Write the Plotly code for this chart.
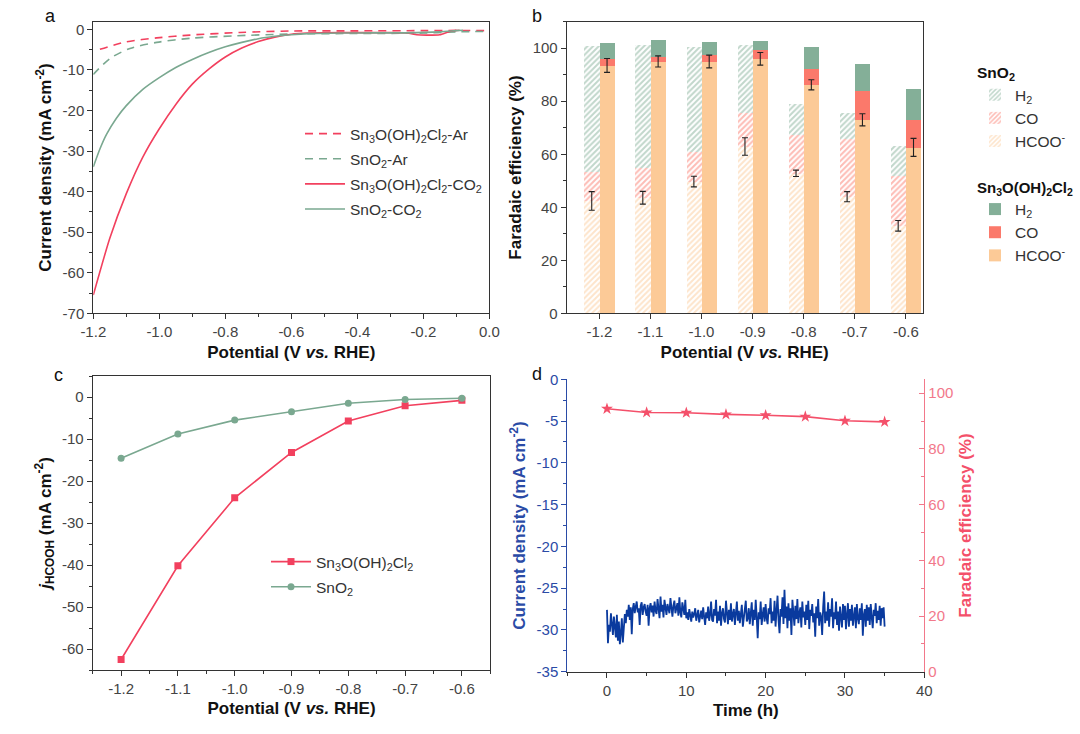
import numpy as np
import plotly.graph_objects as go

FONT = "Arial, 'Liberation Sans', sans-serif"

# ---------------- Panel a: LSV curves ----------------
sn_ar_x = [-1.18, -1.099, -1.008, -0.907, -0.756, -0.604, -0.4, -0.2, -0.1, 0.0]
sn_ar_y = [-4.9, -3.05, -2.1, -1.4, -0.75, -0.4, -0.35, -0.3, -0.25, -0.3]
sno2_ar_x = [-1.2, -1.148, -1.089, -1.008, -0.907, -0.776, -0.604, -0.4, -0.2, -0.1, 0.0]
sno2_ar_y = [-11.1, -7.1, -4.7, -3.2, -2.2, -1.6, -1.15, -1.0, -0.9, -0.6, -0.5]
sn_co2_x = [-1.2, -1.15, -1.1, -1.05, -1.0, -0.95, -0.9, -0.85, -0.8, -0.75, -0.7, -0.65,
            -0.6, -0.55, -0.45, -0.35, -0.25, -0.22, -0.19, -0.15, -0.12, -0.09]
sn_co2_y = [-65.5, -51.5, -40.5, -31.5, -24.5, -18.5, -13.5, -9.8, -6.8, -4.6, -3.0, -1.9,
            -1.2, -0.9, -0.8, -0.8, -0.85, -1.3, -1.4, -1.3, -0.5, -0.2]
sno2_co2_x = [-1.2, -1.18, -1.16, -1.13, -1.1, -1.05, -1.0, -0.95, -0.9, -0.85, -0.8, -0.75,
              -0.7, -0.65, -0.6, -0.55, -0.45, -0.35, -0.25, -0.15, -0.1, -0.08]
sno2_co2_y = [-33.9, -29.5, -25.9, -21.9, -18.8, -14.8, -11.9, -9.4, -7.4, -5.7, -4.3, -3.2,
              -2.3, -1.7, -1.3, -1.05, -0.9, -0.85, -0.85, -0.6, -0.3, -0.2]

# ---------------- Panel b: Faradaic efficiency ----------------
potentials = [-1.2, -1.1, -1.0, -0.9, -0.8, -0.7, -0.6]
sno2_hcoo = [42.4, 43.6, 49.7, 62.9, 52.8, 44.0, 33.0]
sno2_co = [11.1, 11.4, 11.3, 12.9, 14.7, 21.7, 19.0]
sno2_h2 = [47.5, 46.3, 39.6, 25.7, 11.5, 10.0, 11.1]
sno2_err = [3.5, 2.4, 2.0, 3.3, 1.2, 1.9, 2.0]
sn_hcoo = [93.5, 95.0, 95.0, 96.0, 86.2, 73.0, 62.6]
sn_co = [2.5, 1.9, 2.7, 3.4, 6.0, 11.0, 10.6]
sn_h2 = [5.9, 6.5, 4.6, 3.6, 8.2, 10.3, 11.6]
sn_err = [2.6, 2.1, 2.4, 2.4, 1.9, 2.3, 3.4]

# ---------------- Panel c: partial current density ----------------
c_pot = [-1.2, -1.1, -1.0, -0.9, -0.8, -0.7, -0.6]
c_sn = [-62.5, -40.2, -24.0, -13.2, -5.7, -2.1, -0.8]
c_sno2 = [-14.6, -8.8, -5.5, -3.5, -1.5, -0.6, -0.3]

# ---------------- Panel d: stability ----------------
d_current = [
    -27.6, -31.6, -29.4, -30.2, -28.0, -29.8, -30.6, -28.4,
    -29.6, -30.9, -28.2, -31.3, -29.0, -31.7, -30.4, -28.6,
    -31.5, -29.9, -28.1, -29.2, -27.6, -28.4, -27.0, -28.8,
    -27.3, -30.5, -27.5, -26.8, -28.0, -27.2, -26.6, -27.9,
    -27.4, -29.4, -27.1, -26.7, -28.2, -27.3, -26.9, -27.8,
    -28.3, -27.0, -29.5, -27.4, -26.8, -27.9, -27.1, -28.4,
    -26.6, -27.7, -28.1, -26.3, -27.5, -28.6, -26.0, -27.8,
    -27.0, -28.5, -26.4, -27.6, -28.2, -26.9, -27.4, -28.0,
    -26.2, -27.8, -28.4, -27.1, -26.5, -28.0, -27.3, -26.8,
    -28.3, -26.1, -27.9, -28.5, -26.7, -27.5, -28.2, -26.4,
    -28.6, -27.9, -28.8, -27.5, -28.4, -29.0, -27.8, -28.5,
    -28.1, -27.4, -28.9, -28.3, -27.6, -29.1, -28.0, -27.7,
    -28.7, -27.3, -28.4, -29.4, -27.9, -28.6, -27.2, -28.9,
    -28.2, -26.6, -28.8, -29.0, -27.5, -28.3, -26.4, -29.2,
    -27.8, -28.9, -27.1, -29.5, -28.0, -27.4, -28.7, -29.1,
    -26.5, -28.4, -29.3, -27.6, -28.8, -26.8, -29.0, -28.1,
    -27.5, -29.4, -28.2, -26.6, -28.9, -27.7, -29.2, -28.3,
    -27.0, -29.6, -28.4, -27.8, -26.5, -29.0, -28.6, -27.4,
    -29.3, -28.0, -26.7, -29.5, -27.6, -28.8, -26.4, -28.5,
    -31.0, -27.9, -28.7, -26.6, -29.4, -28.2, -27.3, -29.0,
    -26.9, -28.6, -29.3, -27.4, -28.1, -26.2, -29.2, -27.8,
    -28.9, -26.5, -29.6, -27.7, -25.9, -28.8, -30.4, -27.5,
    -28.4, -26.1, -29.3, -25.2, -28.6, -27.2, -29.8, -26.8,
    -28.9, -27.4, -30.6, -26.4, -28.3, -29.5, -27.1, -28.7,
    -26.3, -29.2, -28.0, -27.3, -29.7, -26.6, -28.5, -27.8,
    -29.4, -27.0, -28.8, -26.5, -29.9, -27.6, -28.3, -26.9,
    -29.1, -28.0, -30.8, -27.2, -28.6, -26.3, -29.5, -27.9,
    -28.4, -30.6, -27.3, -25.4, -29.2, -27.8, -28.9, -26.7,
    -29.6, -27.5, -28.4, -26.2, -29.8, -27.9, -28.7, -26.6,
    -29.4, -27.8, -30.1, -27.2, -28.5, -29.7, -26.9, -28.8,
    -27.1, -29.9, -28.2, -26.8, -29.6, -27.5, -28.9, -27.0,
    -29.5, -28.1, -27.3, -29.8, -26.9, -28.6, -29.3, -27.4,
    -28.8, -26.8, -30.7, -28.2, -27.5, -29.6, -27.0, -28.9,
    -27.3, -29.4, -26.9, -28.5, -29.8, -27.6, -28.3, -26.8,
    -29.2, -27.7, -28.8, -27.1, -29.5, -27.4, -28.6, -27.3,
    -29.6,
]
d_time = np.linspace(0, 35, len(d_current))
fe_time = [0, 5, 10, 15, 20, 25, 30, 35]
fe_values = [94.4, 93.1, 93.0, 92.4, 92.1, 91.6, 90.1, 89.7]

# colours
RED = "#F2405E"
GREEN = "#7AA890"
C_H2 = "#84AF98"
C_CO = "#FB796B"
C_HC = "#FCCA97"
BLUE = "#0A3A9E"
PINK = "#F4506A"
BLUE_T = "#2A4BA6"
PINK_T = "#F2788A"

SN = "Sn<sub>3</sub>O(OH)<sub>2</sub>Cl<sub>2</sub>"
SNO2 = "SnO<sub>2</sub>"

fig = go.Figure()

# ---- panel a traces
fig.add_trace(go.Scatter(x=sn_ar_x, y=sn_ar_y, mode="lines", name=SN + "-Ar",
                         line=dict(color=RED, width=1.6, dash="8px,6px", shape="spline", smoothing=0.8),
                         xaxis="x", yaxis="y", legend="legend", legendgroup="a1"))
fig.add_trace(go.Scatter(x=sno2_ar_x, y=sno2_ar_y, mode="lines", name=SNO2 + "-Ar",
                         line=dict(color=GREEN, width=1.6, dash="8px,6px", shape="spline", smoothing=0.8),
                         xaxis="x", yaxis="y", legend="legend", legendgroup="a2"))
fig.add_trace(go.Scatter(x=sn_co2_x, y=sn_co2_y, mode="lines", name=SN + "-CO<sub>2</sub>",
                         line=dict(color=RED, width=1.6, shape="spline", smoothing=0.6),
                         xaxis="x", yaxis="y", legend="legend", legendgroup="a3"))
fig.add_trace(go.Scatter(x=sno2_co2_x, y=sno2_co2_y, mode="lines", name=SNO2 + "-CO<sub>2</sub>",
                         line=dict(color=GREEN, width=1.6, shape="spline", smoothing=0.6),
                         xaxis="x", yaxis="y", legend="legend", legendgroup="a4"))

# ---- panel b traces
pot = np.array(potentials)
x_sno2 = pot - 0.015
x_sn = pot + 0.015
BW = 0.03


def hatch(c):
    return dict(shape="/", fgcolor=c, bgcolor="white", size=4, solidity=0.5)


err_style = dict(type="data", color="#222", thickness=1.1, width=3)

fig.add_trace(go.Bar(x=x_sno2, y=sno2_hcoo, width=BW, name="HCOO<sup>-</sup>",
                     marker=dict(color="white", pattern=hatch(C_HC), line=dict(width=0)),
                     xaxis="x2", yaxis="y2", legend="legend2"))
fig.add_trace(go.Bar(x=x_sno2, y=sno2_co, width=BW, name="CO",
                     marker=dict(color="white", pattern=hatch(C_CO), line=dict(width=0)),
                     xaxis="x2", yaxis="y2", legend="legend2"))
fig.add_trace(go.Bar(x=x_sno2, y=sno2_h2, width=BW, name="H<sub>2</sub>",
                     marker=dict(color="white", pattern=hatch(C_H2), line=dict(width=0)),
                     xaxis="x2", yaxis="y2", legend="legend2"))
fig.add_trace(go.Bar(x=x_sn, y=sn_hcoo, width=BW, name="HCOO<sup>-</sup>",
                     marker=dict(color=C_HC, line=dict(width=0)),
                     xaxis="x2", yaxis="y2", legend="legend3"))
fig.add_trace(go.Bar(x=x_sn, y=sn_co, width=BW, name="CO",
                     marker=dict(color=C_CO, line=dict(width=0)),
                     xaxis="x2", yaxis="y2", legend="legend3"))
fig.add_trace(go.Bar(x=x_sn, y=sn_h2, width=BW, name="H<sub>2</sub>",
                     marker=dict(color=C_H2, line=dict(width=0)),
                     xaxis="x2", yaxis="y2", legend="legend3"))
# error bars drawn on top of the stacked bars
fig.add_trace(go.Scatter(x=x_sno2, y=sno2_hcoo, mode="markers", marker=dict(size=1, color="rgba(0,0,0,0)"),
                         error_y=dict(array=sno2_err, **err_style), showlegend=False,
                         hoverinfo="skip", xaxis="x2", yaxis="y2"))
fig.add_trace(go.Scatter(x=x_sn, y=sn_hcoo, mode="markers", marker=dict(size=1, color="rgba(0,0,0,0)"),
                         error_y=dict(array=sn_err, **err_style), showlegend=False,
                         hoverinfo="skip", xaxis="x2", yaxis="y2"))

# ---- panel c traces
fig.add_trace(go.Scatter(x=c_pot, y=c_sn, mode="lines+markers", name=SN,
                         line=dict(color=RED, width=1.6), marker=dict(symbol="square", size=7, color=RED),
                         xaxis="x3", yaxis="y3", legend="legend4", legendgroup="c1"))
fig.add_trace(go.Scatter(x=c_pot, y=c_sno2, mode="lines+markers", name=SNO2,
                         line=dict(color=GREEN, width=1.6), marker=dict(symbol="circle", size=7, color=GREEN),
                         xaxis="x3", yaxis="y3", legend="legend4", legendgroup="c2"))

# ---- panel d traces
fig.add_trace(go.Scatter(x=d_time, y=d_current, mode="lines", showlegend=False,
                         line=dict(color=BLUE, width=1.8), xaxis="x4", yaxis="y4"))
fig.add_trace(go.Scatter(x=fe_time, y=fe_values, mode="lines+markers", showlegend=False,
                         line=dict(color=PINK, width=1.6),
                         marker=dict(symbol="star", size=9, color=PINK),
                         xaxis="x4", yaxis="y5"))


def px_x(p):
    return p / 1080.0


def px_y(p):
    return 1 - p / 734.0


TICKF = dict(family=FONT, size=15, color="#444")
TITLEF = dict(family=FONT, size=17, color="#111")


def axis(domain, rng, vals, texts, minor_dtick, mirror=True, color="#333", ticks="outside",
         title="", tfont=None, titlefont=None, standoff=6, **kw):
    d = dict(domain=domain, range=rng, tickmode="array", tickvals=vals, ticktext=texts,
             showline=True, linecolor=color, linewidth=1, mirror=mirror,
             ticks=ticks, ticklen=5, tickwidth=1, tickcolor=color,
             minor=dict(ticks=ticks, ticklen=3, tickwidth=1, tickcolor=color, dtick=minor_dtick,
                        tick0=0),
             showgrid=False, zeroline=False,
             tickfont=tfont or TICKF,
             title=dict(text=title, font=titlefont or TITLEF, standoff=standoff))
    d.update(kw)
    return d


def f1(v):
    return f"{v:.1f}"


def f0(v):
    return f"{v:g}"


pot_label = "<b>Potential (V <i>vs.</i> RHE)</b>"

xa_vals = [-1.2, -1.0, -0.8, -0.6, -0.4, -0.2, 0.0]
ya_vals = [0, -10, -20, -30, -40, -50, -60, -70]
b_yvals = [0, 20, 40, 60, 80, 100]
c_yvals = [0, -10, -20, -30, -40, -50, -60]
d_yvals = [0, -5, -10, -15, -20, -25, -30, -35]
d_xvals = [0, 10, 20, 30, 40]
d_rvals = [0, 20, 40, 60, 80, 100]

dom_ax = [px_x(93.3), px_x(489.3)]
dom_ay = [px_y(313.3), px_y(21.7)]
dom_bx = [px_x(566.7), px_x(922.7)]
dom_cx = [px_x(92.7), px_x(490.3)]
dom_cy = [px_y(670), px_y(376)]
dom_dx = [px_x(567.3), px_x(924.3)]
dom_dy = [px_y(671.7), px_y(379.3)]

LEGF = dict(family=FONT, size=15.5, color="#333")

layout = dict(
    width=1080, height=734,
    margin=dict(l=0, r=0, t=0, b=0, autoexpand=False),
    paper_bgcolor="white", plot_bgcolor="white",
    font=dict(family=FONT, color="#333"),
    barmode="stack", bargap=0,
    xaxis=axis(dom_ax, [-1.2, 0.0], xa_vals, [f1(v) for v in xa_vals], 0.1,
               title=pot_label, anchor="y"),
    yaxis=axis(dom_ay, [-70, 1.9], ya_vals, [f0(v) for v in ya_vals], 5,
               title="<b>Current density (mA cm<sup>-2</sup>)</b>", anchor="x"),
    xaxis2=axis(dom_bx, [-1.264, -0.567], potentials, [f1(v) for v in potentials], 0.1,
                title=pot_label, anchor="y2"),
    yaxis2=axis(dom_ay, [0, 110], b_yvals, [f0(v) for v in b_yvals], 10,
                title="<b>Faradaic efficiency (%)</b>", anchor="x2"),
    xaxis3=axis(dom_cx, [-1.25, -0.55], c_pot, [f1(v) for v in c_pot], 0.05,
                title=pot_label, anchor="y3"),
    yaxis3=axis(dom_cy, [-65, 5], c_yvals, [f0(v) for v in c_yvals], 5,
                title="<b><i>j</i><sub>HCOOH</sub> (mA cm<sup>-2</sup>)</b>", anchor="x3"),
    xaxis4=axis(dom_dx, [-5, 40], d_xvals, [f0(v) for v in d_xvals], 5, mirror=False,
                title="<b>Time (h)</b>", anchor="y4"),
    yaxis4=axis(dom_dy, [-35, 0], d_yvals, [f0(v) for v in d_yvals], 2.5, mirror=False,
                color=BLUE_T, tfont=dict(family=FONT, size=15, color=BLUE_T),
                titlefont=dict(family=FONT, size=17, color=BLUE_T),
                title="<b>Current density (mA cm<sup>-2</sup>)</b>", anchor="x4"),
    yaxis5=axis(dom_dy, [0, 105], d_rvals, [f0(v) for v in d_rvals], 10, mirror=False,
                color=PINK_T, ticks="inside", tfont=dict(family=FONT, size=15, color=PINK_T),
                titlefont=dict(family=FONT, size=17, color=PINK),
                title="<b>Faradaic efficiency (%)</b>", anchor="x4", overlaying="y4", side="right"),
    legend=dict(x=px_x(300), y=px_y(117), xanchor="left", yanchor="top",
                bgcolor="rgba(0,0,0,0)", font=LEGF, tracegroupgap=2, itemwidth=40),
    legend2=dict(x=px_x(975), y=px_y(58), xanchor="left", yanchor="top",
                 bgcolor="rgba(0,0,0,0)", font=LEGF, traceorder="reversed",
                 title=dict(text="<b>SnO<sub>2</sub></b>", font=dict(family=FONT, size=15.5, color="#111"))),
    legend3=dict(x=px_x(975), y=px_y(173), xanchor="left", yanchor="top",
                 bgcolor="rgba(0,0,0,0)", font=LEGF, traceorder="reversed",
                 title=dict(text="<b>" + SN + "</b>", font=dict(family=FONT, size=15, color="#111"))),
    legend4=dict(x=px_x(266), y=px_y(545), xanchor="left", yanchor="top",
                 bgcolor="rgba(0,0,0,0)", font=LEGF, tracegroupgap=2, itemwidth=40),
    annotations=[
        dict(text=t, x=px_x(xx), y=px_y(yy), xref="paper", yref="paper", showarrow=False,
             font=dict(family=FONT, size=18, color="#111"), xanchor="center", yanchor="middle")
        for t, xx, yy in [("a", 50, 16), ("b", 537, 16), ("c", 58, 375), ("d", 537, 374)]
    ],
)
fig.update_layout(**layout)
fig.write_html("out.html", config={"displayModeBar": False},
               post_script="document.body.style.margin='0';")
